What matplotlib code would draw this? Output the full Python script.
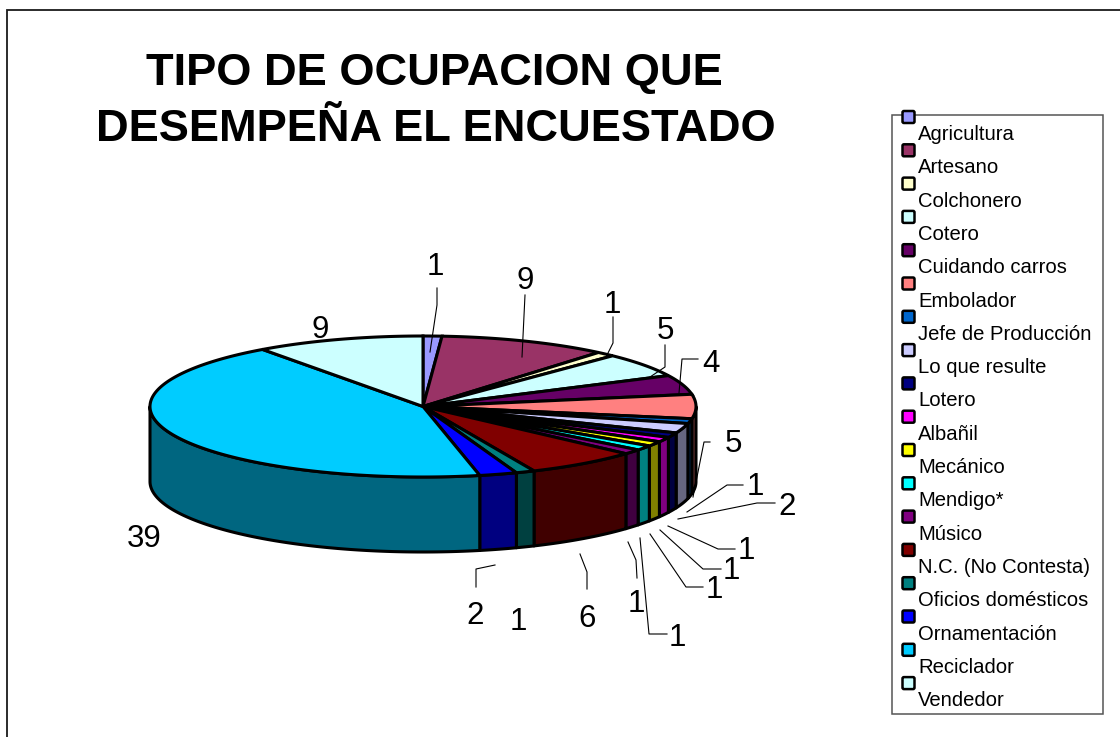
import numpy as np
import matplotlib
matplotlib.use("Agg")
import matplotlib.pyplot as plt
from matplotlib.patches import Polygon, Rectangle, FancyBboxPatch

categories = ["Agricultura", "Artesano", "Colchonero", "Cotero", "Cuidando carros", "Embolador",
              "Jefe de Producción", "Lo que resulte", "Lotero", "Albañil", "Mecánico", "Mendigo*",
              "Músico", "N.C. (No Contesta)", "Oficios domésticos", "Ornamentación", "Reciclador", "Vendedor"]
values = [1, 9, 1, 5, 4, 5, 1, 2, 1, 1, 1, 1, 1, 6, 1, 2, 39, 9]
top_colors = ["#9999FF", "#993366", "#FFFFCC", "#CCFFFF", "#660066", "#FF8080", "#0066CC", "#CCCCFF",
              "#000080", "#FF00FF", "#FFFF00", "#00FFFF", "#800080", "#800000", "#008080", "#0000FF",
              "#00CCFF", "#CCFFFF"]
label_xy = [(435, 267), (525, 281), (612, 305), (665, 331), (711, 364), (733, 444), (755, 487), (787, 507),
            (746, 551), (731, 571), (714, 590), (677, 638), (636, 604), (587, 619), (518, 622), (475, 616),
            (144, 539), (320, 330)]
leaders = [
    [(437, 288), (437, 305), (430, 352)],
    [(525, 295), (522, 357)],
    [(613, 317), (613, 343), (607, 355)],
    [(665, 345), (665, 367), (650, 377)],
    [(698, 359), (682, 359), (679, 393)],
    [(710, 442), (704, 442), (693, 497)],
    [(743, 485), (727, 485), (687, 512)],
    [(775, 503), (757, 503), (678, 519)],
    [(735, 549), (718, 549), (668, 526)],
    [(721, 569), (703, 569), (660, 530)],
    [(703, 587), (686, 587), (650, 534)],
    [(667, 634), (649, 634), (640, 538)],
    [(637, 578), (636, 560), (628, 542)],
    [(587, 589), (587, 572), (580, 554)],
    None,
    [(476, 587), (476, 569), (495, 565)],
    None,
    None,
]

W, H = 1120, 737
CX, CY, RX, RY, DEPTH = 423, 406.5, 273, 70.5, 75
FONT = "Liberation Sans"
EDGE = 2.2

fig = plt.figure(figsize=(W / 100, H / 100), dpi=100, facecolor="white")
ax = fig.add_axes([0, 0, 1, 1])
ax.set_xlim(0, W)
ax.set_ylim(H, 0)
ax.axis("off")

ax.plot([6.5, 6.5, W], [H, 10, 10], color="#1a1a1a", lw=1.3, solid_joinstyle="miter", zorder=1)
ax.text(434.5, 85, "TIPO DE OCUPACION QUE", family=FONT, weight="bold", fontsize=32.6, ha="center", va="baseline")
ax.text(436, 140.5, "DESEMPEÑA EL ENCUESTADO", family=FONT, weight="bold", fontsize=32.6, ha="center", va="baseline")


def darker(c):
    return tuple(v * 0.5 for v in matplotlib.colors.to_rgb(c))


def arc(a0, a1):
    t = np.radians(np.linspace(a0, a1, max(int(abs(a1 - a0) * 2), 2)))
    return np.column_stack([CX + RX * np.sin(t), CY - RY * np.cos(t)])


edges = np.concatenate([[0], np.cumsum(values)]) * 360.0 / sum(values)
for i, c in enumerate(top_colors):
    a0, a1 = max(edges[i], 90), min(edges[i + 1], 270)
    if a1 > a0:
        p = arc(a0, a1)
        q = p + [0, DEPTH]
        ax.add_patch(Polygon(np.vstack([p, q[::-1]]), closed=True, fc=darker(c), ec="black",
                             lw=EDGE, joinstyle="round", zorder=2))
for i, c in enumerate(top_colors):
    p = arc(edges[i], edges[i + 1])
    ax.add_patch(Polygon(np.vstack([[CX, CY], p]), closed=True, fc=c, ec="black",
                         lw=EDGE, joinstyle="miter", zorder=3))

for pts in leaders:
    if pts:
        xs, ys = zip(*pts)
        ax.plot(xs, ys, color="black", lw=0.8, zorder=4)
for v, (x, y) in zip(values, label_xy):
    ax.text(x, y, str(v), family=FONT, fontsize=22.5, ha="center", va="center", zorder=5)

ax.add_patch(Rectangle((892, 115), 211, 599, fc="white", ec="#555555", lw=1.1, zorder=1))
for i, (name, c) in enumerate(zip(categories, top_colors)):
    y = 117 + i * 33.3
    ax.add_patch(FancyBboxPatch((902.5, y - 6), 12, 12, boxstyle="round,pad=0,rounding_size=1.5",
                                fc=c, ec="black", lw=1.8, zorder=3))
    ax.text(918, 140 + i * 33.3, name, family=FONT, fontsize=14.6, ha="left", va="baseline", zorder=3)

fig.savefig("out.png", dpi=100, facecolor="white")
